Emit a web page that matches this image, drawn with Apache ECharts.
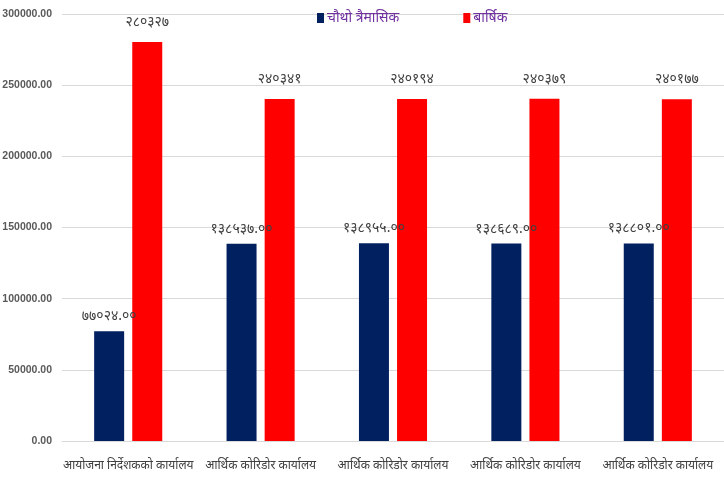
<!DOCTYPE html>
<html><head><meta charset="utf-8">
<script src="https://cdn.jsdelivr.net/npm/echarts@6/dist/echarts.min.js"></script>
<style>html,body{margin:0;padding:0;background:#fff}#c{width:724px;height:480px}</style>
</head><body><div id="c"></div>
<script>
const categories = ['आयोजना निर्देशकको कार्यालय','आर्थिक कोरिडोर कार्यालय','आर्थिक कोरिडोर कार्यालय','आर्थिक कोरिडोर कार्यालय','आर्थिक कोरिडोर कार्यालय'];
const seriesNames = ['चौथो त्रैमासिक','बार्षिक'];
const quarterValues = [77024, 138537, 138955, 138689, 138801];
const annualValues = [280327, 240341, 240194, 240379, 240177];
const quarterLabels = ['७७०२४.००','१३८५३७.००','१३८९५५.००','१३८६८९.००','१३८८०१.००'];
const annualLabels = ['२८०३२७','२४०३४१','२४०१९४','२४०३७९','२४०१७७'];
const yTicks = {min:0, max:300000, interval:50000};

const chart = echarts.init(document.getElementById('c'), null, {renderer:'canvas'});
const labelStyle = {show:true, position:'top', color:'#404040', fontSize:14, fontFamily:'Noto Sans, sans-serif'};
chart.setOption({
  animation:false,
  backgroundColor:'#fff',
  legend:{
    data:seriesNames, top:6, left:312, itemWidth:7, itemHeight:10, itemGap:64,
    icon:'rect',
    textStyle:{color:'#7030A0', fontSize:14, fontFamily:'Noto Sans, sans-serif', padding:[0,0,0,-2]}
  },
  grid:{left:62, right:0, top:14, bottom:39, outerBoundsMode:'none', containLabel:false},
  xAxis:{
    type:'category', data:categories,
    axisLine:{lineStyle:{color:'#d9d9d9'}},
    axisTick:{show:false},
    axisLabel:{color:'#404040', fontSize:12, margin:19, interval:0, fontFamily:'Noto Sans, sans-serif'}
  },
  yAxis:{
    type:'value', min:yTicks.min, max:yTicks.max, interval:yTicks.interval,
    axisLine:{show:false}, axisTick:{show:false},
    splitLine:{lineStyle:{color:'#d9d9d9'}},
    axisLabel:{color:'#595959', fontSize:10.5, fontWeight:'bold', margin:10, formatter:v=>v.toFixed(2)}
  },
  series:[
    {name:seriesNames[0], type:'bar', data:quarterValues, barWidth:30, barGap:'27%',
     itemStyle:{color:'#002060'},
     label:Object.assign({}, labelStyle, {distance:8, formatter:p=>quarterLabels[p.dataIndex]})},
    {name:seriesNames[1], type:'bar', data:annualValues, barWidth:30, barGap:'27%',
     itemStyle:{color:'#FF0000'},
     label:Object.assign({}, labelStyle, {distance:13, formatter:p=>annualLabels[p.dataIndex]})}
  ]
});
</script></body></html>
